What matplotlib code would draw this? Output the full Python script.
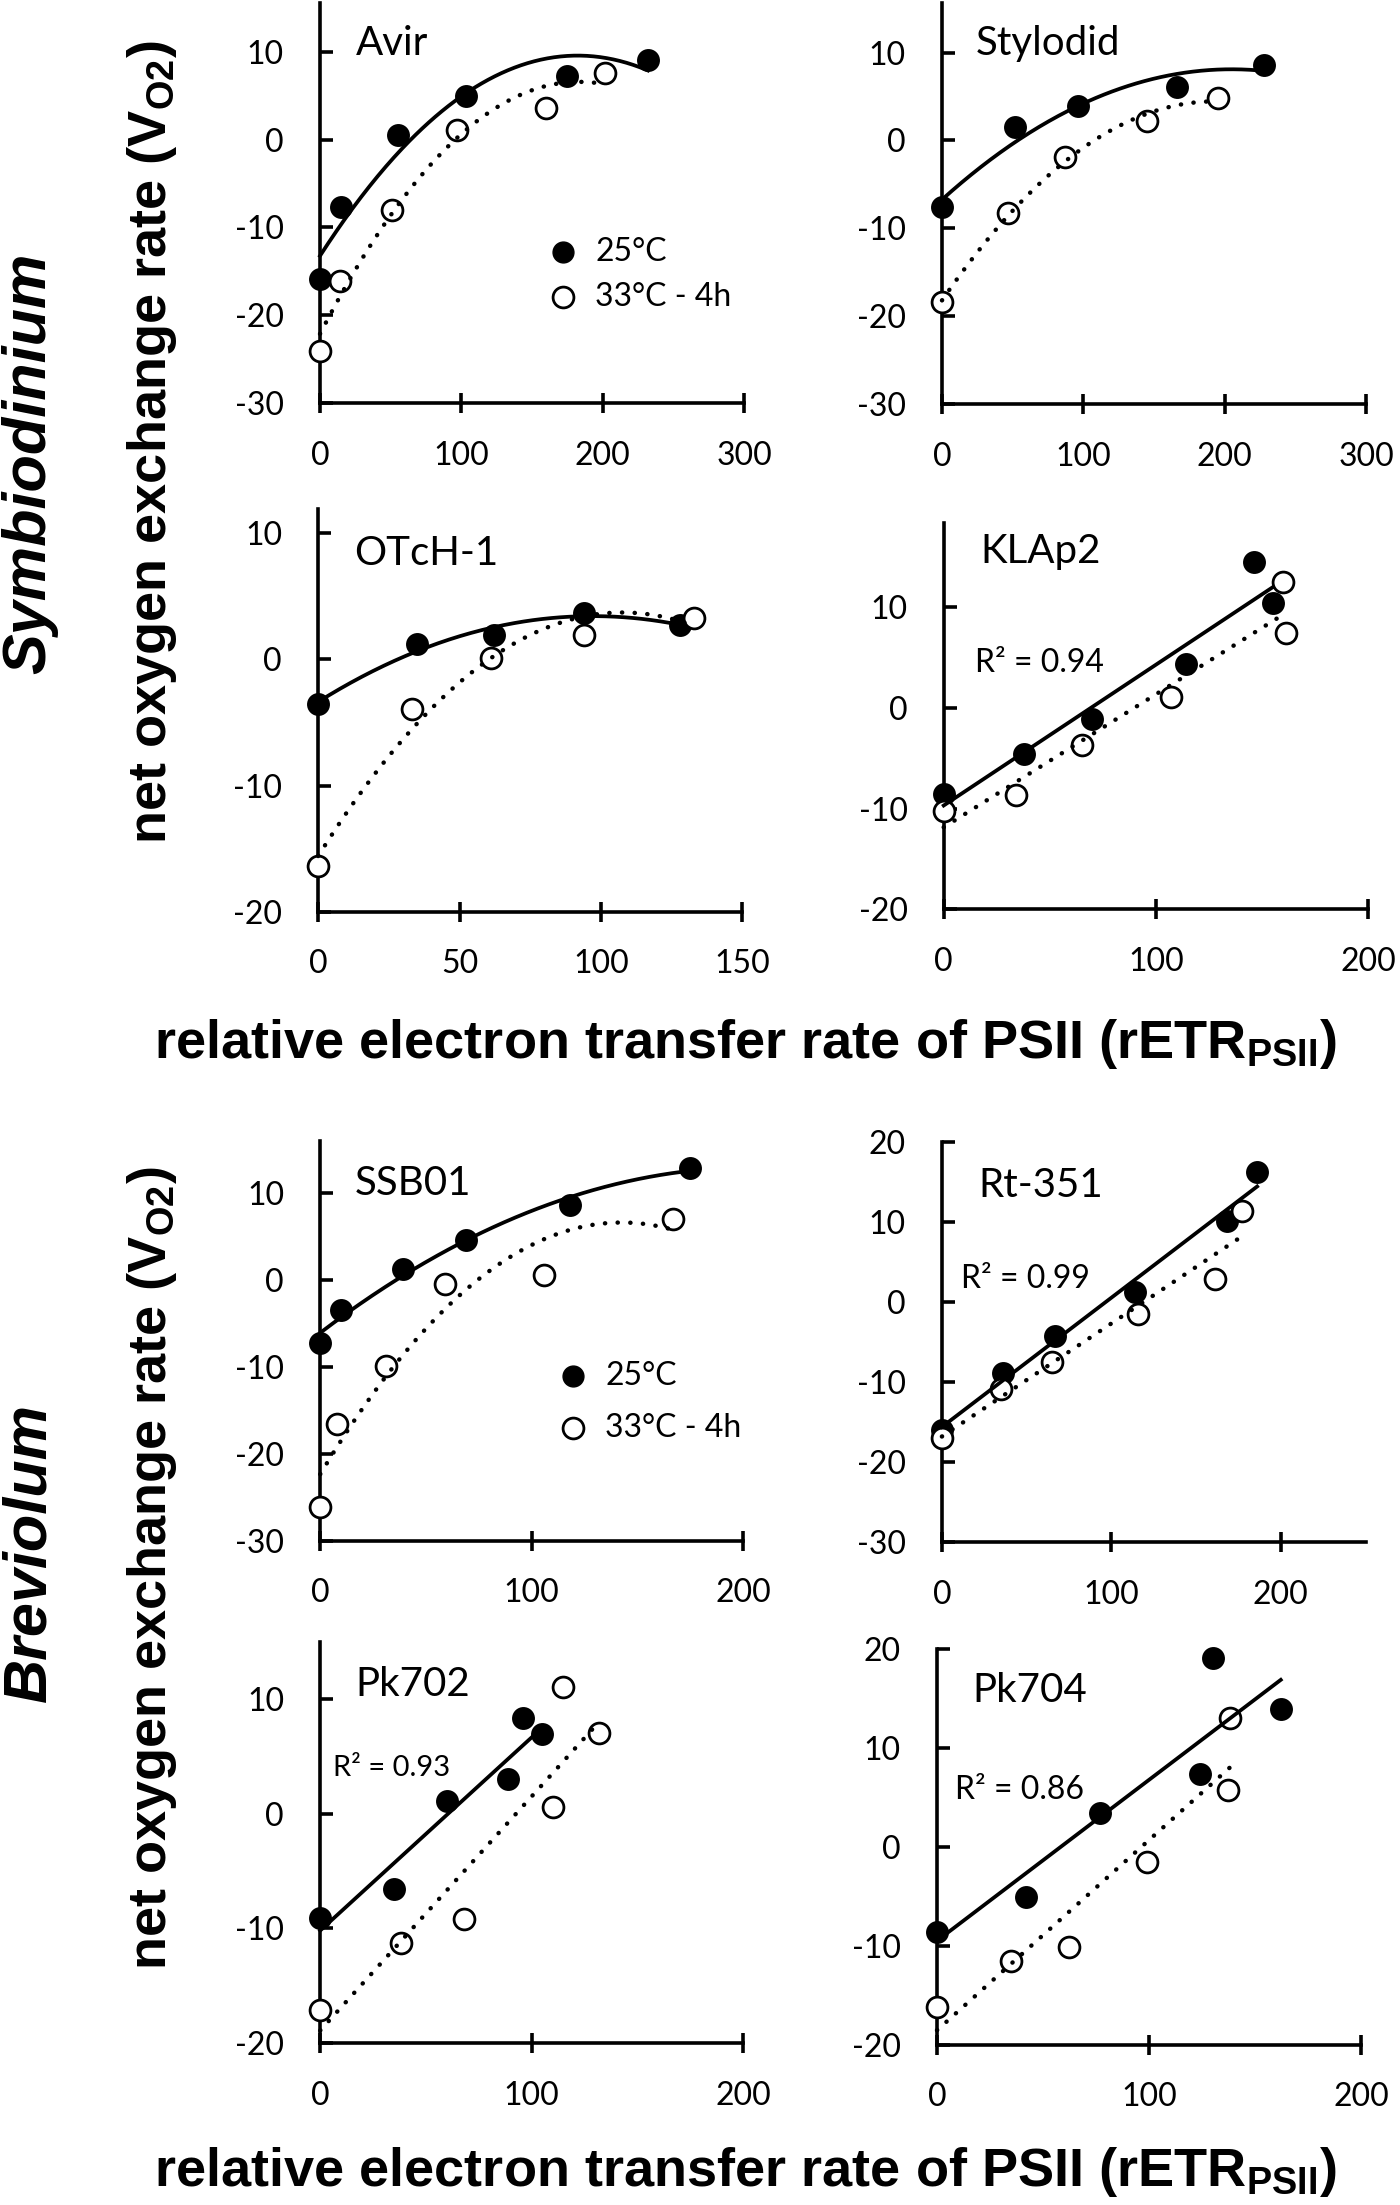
import numpy as np
import matplotlib
matplotlib.use('Agg')
from matplotlib import pyplot as plt

# 数据：每个株系两组（25°C 实心点，33°C-4h 空心点）
names = ['Avir', 'Stylodid', 'OTcH-1', 'KLAp2', 'SSB01', 'Rt-351', 'Pk702', 'Pk704']

avir_x25 = [0, 15, 55, 103, 175, 232]
avir_y25 = [-15.9, -7.7, 0.5, 5.0, 7.2, 9.1]
avir_x33 = [0, 14, 51, 97, 160, 202]
avir_y33 = [-24.0, -16.1, -8.0, 1.1, 3.6, 7.6]

styl_x25 = [0, 52, 96, 166, 228]
styl_y25 = [-7.6, 1.5, 3.9, 6.1, 8.6]
styl_x33 = [0, 47, 87, 145, 195]
styl_y33 = [-18.4, -8.3, -1.9, 2.2, 4.8]

otch_x25 = [0, 35, 62, 94, 128]
otch_y25 = [-3.5, 1.2, 1.9, 3.7, 2.7]
otch_x33 = [0, 33, 61, 94, 133]
otch_y33 = [-16.4, -3.9, 0.1, 1.9, 3.3]

klap_x25 = [0, 38, 70, 114, 146, 155]
klap_y25 = [-8.6, -4.6, -1.1, 4.3, 14.5, 10.4]
klap_x33 = [0, 34, 65, 107, 160, 161]
klap_y33 = [-10.2, -8.7, -3.7, 1.1, 12.5, 7.4]

ssb_x25 = [0, 10, 39, 69, 118, 175]
ssb_y25 = [-7.2, -3.5, 1.3, 4.6, 8.6, 12.9]
ssb_x33 = [0, 8, 31, 59, 106, 167]
ssb_y33 = [-26.1, -16.6, -9.9, -0.5, 0.6, 7.0]

rt_x25 = [0, 36, 67, 114, 168, 186]
rt_y25 = [-16.0, -8.9, -4.2, 1.3, 10.1, 16.2]
rt_x33 = [0, 35, 65, 116, 161, 177]
rt_y33 = [-17.0, -10.9, -7.5, -1.5, 2.9, 11.4]

pk702_x25 = [0, 35, 60, 89, 96, 105]
pk702_y25 = [-9.1, -6.6, 1.1, 3.0, 8.3, 6.9]
pk702_x33 = [0, 38, 68, 110, 115, 132]
pk702_y33 = [-17.1, -11.3, -9.2, 0.6, 11.0, 7.0]

pk704_x25 = [0, 42, 77, 124, 130, 162]
pk704_y25 = [-8.6, -5.0, 3.4, 7.4, 19.1, 13.9]
pk704_x33 = [0, 35, 62, 99, 138, 137]
pk704_y33 = [-16.2, -11.5, -10.1, -1.5, 13.0, 5.8]

series = [
    (avir_x25, avir_y25, avir_x33, avir_y33),
    (styl_x25, styl_y25, styl_x33, styl_y33),
    (otch_x25, otch_y25, otch_x33, otch_y33),
    (klap_x25, klap_y25, klap_x33, klap_y33),
    (ssb_x25, ssb_y25, ssb_x33, ssb_y33),
    (rt_x25, rt_y25, rt_x33, rt_y33),
    (pk702_x25, pk702_y25, pk702_x33, pk702_y33),
    (pk704_x25, pk704_y25, pk704_x33, pk704_y33),
]

fit_deg = [2, 2, 2, 1, 2, 1, 1, 1]
r2_text = [None, None, None, 'R² = 0.94', None, 'R² = 0.99', 'R² = 0.93', 'R² = 0.86']

xlims = [(0, 300), (0, 300), (0, 150), (0, 200), (0, 200), (0, 250), (0, 200), (0, 200)]
ylims = [(-30, 15.5), (-30, 15.6), (-20, 11.9), (-20, 18.3),
         (-30, 16.0), (-30, 20), (-20, 14.9), (-20, 20)]
xticks = [[0, 100, 200, 300], [0, 100, 200, 300], [0, 50, 100, 150], [0, 100, 200],
          [0, 100, 200], [0, 100, 200], [0, 100, 200], [0, 100, 200]]
yticks = [[-30, -20, -10, 0, 10], [-30, -20, -10, 0, 10], [-20, -10, 0, 10],
          [-20, -10, 0, 10], [-30, -20, -10, 0, 10], [-30, -20, -10, 0, 10, 20],
          [-20, -10, 0, 10], [-20, -10, 0, 10, 20]]

legend_labels = ['25°C', '33°C - 4h']

# 版面（像素）
W, H = 1400, 2205
boxes = [(320, 744, 3.3, 403.3), (942, 1366, 3.3, 404.3),
         (318.2, 742.4, 509.3, 911.7), (943.7, 1368.4, 523.3, 909.3),
         (320.2, 743.1, 1140.7, 1541), (941.9, 1365.6, 1141.7, 1542.3),
         (320.2, 743.1, 1642.3, 2043.3), (937, 1361.4, 1649, 2045)]
title_pos = [(0.085, 0.90), (0.08, 0.90), (0.084, 0.89), (0.087, 0.926),
             (0.082, 0.892), (0.085, 0.891), (0.084, 0.896), (0.084, 0.894)]
r2_pos = [None, None, None, (0.073, 0.637), None, (0.044, 0.657),
          (0.031, 0.687), (0.043, 0.644)]
r2_size = [0, 0, 0, 23, 0, 23, 21, 23]
legend_pos = {0: (0.574, 0.379, 0.2665, 0.649), 4: (0.597, 0.413, 0.2815, 0.674)}

plt.rcParams['font.family'] = ['Lato', 'DejaVu Sans']
plt.rcParams['axes.unicode_minus'] = False
plt.rcParams['mathtext.fontset'] = 'custom'
plt.rcParams['mathtext.bf'] = 'Liberation Sans:bold'
plt.rcParams['mathtext.rm'] = 'Liberation Sans'

fig = plt.figure(figsize=(W / 100, H / 100), dpi=100)

lw = 2.7
msize = 15
for i, name in enumerate(names):
    l, r, t, b = boxes[i]
    ax = fig.add_axes([l / W, 1 - b / H, (r - l) / W, (b - t) / H])
    ax.patch.set_alpha(0)
    x25, y25, x33, y33 = series[i]

    ax.plot(x25, y25, 'o', ms=msize, mfc='black', mec='black', mew=1.5,
            zorder=3, clip_on=False)
    ax.plot(x33, y33, 'o', ms=msize, mfc='white', mec='black', mew=2.0,
            zorder=3, clip_on=False)

    # 趋势线
    c25 = np.polyfit(x25, y25, fit_deg[i])
    xs = np.linspace(min(x25), max(x25), 200)
    ax.plot(xs, np.polyval(c25, xs), '-', color='black', lw=lw,
            zorder=4, clip_on=False)
    c33 = np.polyfit(x33, y33, fit_deg[i])
    xs = np.linspace(min(x33), max(x33), 200)
    ax.plot(xs, np.polyval(c33, xs), color='black', lw=3.2,
            linestyle=(0, (0.05, 2.8)), dash_capstyle='round',
            zorder=4, clip_on=False)

    ax.set_xlim(*xlims[i])
    ax.set_ylim(*ylims[i])
    ax.set_xticks(xticks[i])
    ax.set_yticks(yticks[i])
    for s in ['top', 'right']:
        ax.spines[s].set_visible(False)
    for s in ['left', 'bottom']:
        ax.spines[s].set_linewidth(2.6)
    ax.tick_params(axis='y', direction='in', length=9, width=2.6, pad=26,
                   labelsize=23)
    ax.tick_params(axis='x', direction='inout', length=14, width=2.6, pad=20,
                   labelsize=23)

    tx, ty = title_pos[i]
    ax.text(tx, ty, name, transform=ax.transAxes, fontsize=29,
            ha='left', va='center')
    if r2_text[i]:
        rx, ry = r2_pos[i]
        ax.text(rx, ry, r2_text[i], transform=ax.transAxes,
                fontsize=r2_size[i], ha='left', va='center')
    if i in legend_pos:
        mx, my1, my2, lx = legend_pos[i]
        ax.plot([mx], [my1], 'o', ms=msize, mfc='black', mec='black',
                transform=ax.transAxes, clip_on=False)
        ax.plot([mx], [my2], 'o', ms=msize, mfc='white', mec='black', mew=2.0,
                transform=ax.transAxes, clip_on=False)
        ax.text(lx, my1, legend_labels[0], transform=ax.transAxes,
                fontsize=23, ha='left', va='center')
        ax.text(lx, my2, legend_labels[1], transform=ax.transAxes,
                fontsize=23, ha='left', va='center')

# 轴标题
ylab = r'net oxygen exchange rate (V$_{\mathbf{O2}}$)'
xlab = r'relative electron transfer rate of PSII (rETR$_{\mathbf{PSII}}$)'
for yc in [442, 1568]:
    fig.text(152 / W, 1 - yc / H, ylab, rotation=90, fontsize=39,
             fontweight='bold', family='Liberation Sans', ha='center', va='center')
for yc in [1044, 2172]:
    fig.text(745 / W, 1 - yc / H, xlab, fontsize=39, fontweight='bold',
             family='Liberation Sans', ha='center', va='center')
fig.text(30 / W, 1 - 463 / H, 'Symbiodinium', rotation=90, fontsize=44,
         fontweight='bold', fontstyle='italic', family='Liberation Sans',
         ha='center', va='center')
fig.text(30 / W, 1 - 1553 / H, 'Breviolum', rotation=90, fontsize=44,
         fontweight='bold', fontstyle='italic', family='Liberation Sans',
         ha='center', va='center')

fig.savefig('out.png', dpi=100, facecolor='white')
